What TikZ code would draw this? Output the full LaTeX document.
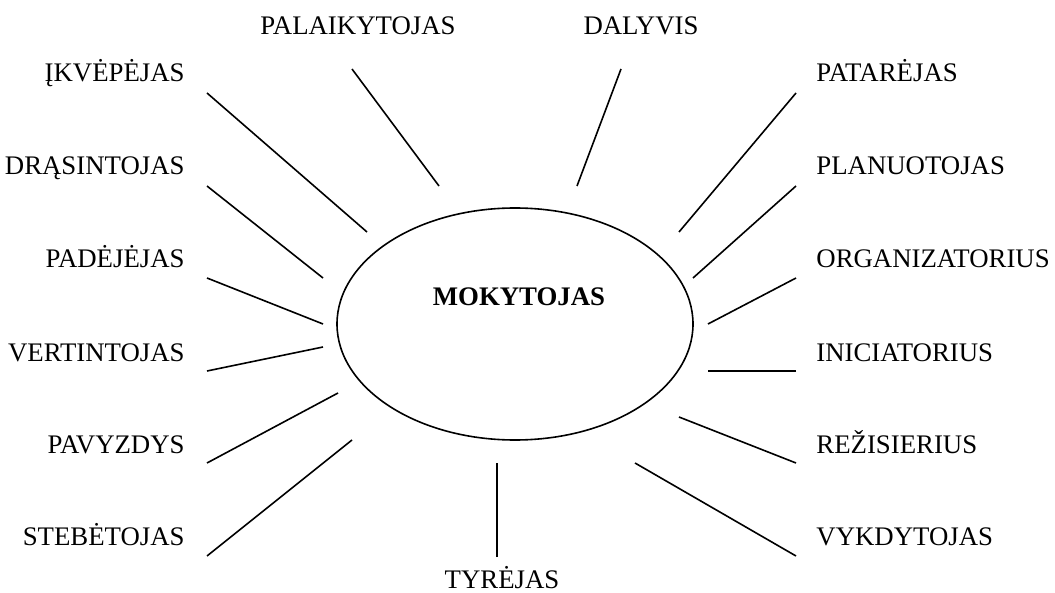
\documentclass[tikz,border=0pt]{standalone}
\usepackage{fontspec}
\setmainfont{Liberation Serif}
\usetikzlibrary{shapes.geometric}
\begin{document}
\begin{tikzpicture}[x=0.5pt, y=-0.5pt, font=\fontsize{13.4}{16}\selectfont,
        lbl/.style={inner sep=0pt},
        lleft/.style={lbl, anchor=base east},
        lright/.style={lbl, anchor=base west},
        ltop/.style={lbl, anchor=base},
        ray/.style={thick}]
        \useasboundingbox (0,0) rectangle (1055,593);
        \node[draw, thick, ellipse, minimum width=178pt, minimum height=116pt] (mok) at (515,324) {};
        \node[ltop, font=\fontsize{13.4}{16}\selectfont\bfseries] (mokt) at (519,306) {MOKYTOJAS};
        \node[ltop] (pal) at (358,35) {PALAIKYTOJAS};
        \node[ltop] (dal) at (641,35) {DALYVIS};
        \node[ltop] (tyr) at (502,588) {TYRĖJAS};
        \node[lleft] (ikv) at (185,82) {ĮKVĖPĖJAS};
        \node[lleft] (dra) at (185,175) {DRĄSINTOJAS};
        \node[lleft] (pad) at (185,268) {PADĖJĖJAS};
        \node[lleft] (ver) at (185,361) {VERTINTOJAS};
        \node[lleft] (pav) at (185,453) {PAVYZDYS};
        \node[lleft] (ste) at (185,545) {STEBĖTOJAS};
        \node[lright] (pat) at (816,82) {PATARĖJAS};
        \node[lright] (pla) at (816,175) {PLANUOTOJAS};
        \node[lright] (org) at (816,268) {ORGANIZATORIUS};
        \node[lright] (ini) at (816,361) {INICIATORIUS};
        \node[lright] (rez) at (816,453) {REŽISIERIUS};
        \node[lright] (vyk) at (816,545) {VYKDYTOJAS};
        % ray ends
        \coordinate (pal1) at (352,69);  \coordinate (pal2) at (439,186);
        \coordinate (dal1) at (621,69);  \coordinate (dal2) at (577,186);
        \coordinate (tyr1) at (497,557); \coordinate (tyr2) at (497,463);
        \coordinate (ikv1) at (207,93);  \coordinate (ikv2) at (367,232);
        \coordinate (dra1) at (207,186); \coordinate (dra2) at (323,278);
        \coordinate (pad1) at (207,278); \coordinate (pad2) at (323,324);
        \coordinate (ver1) at (207,371); \coordinate (ver2) at (323,347);
        \coordinate (pav1) at (207,463); \coordinate (pav2) at (338,393);
        \coordinate (ste1) at (207,556); \coordinate (ste2) at (352,440);
        \coordinate (pat1) at (796,93);  \coordinate (pat2) at (679,232);
        \coordinate (pla1) at (796,186); \coordinate (pla2) at (693,278);
        \coordinate (org1) at (796,278); \coordinate (org2) at (708,324);
        \coordinate (ini1) at (796,371); \coordinate (ini2) at (708,371);
        \coordinate (rez1) at (796,463); \coordinate (rez2) at (679,417);
        \coordinate (vyk1) at (796,556); \coordinate (vyk2) at (635,463);
        \draw[ray] (pal1) -- (pal2);
        \draw[ray] (dal1) -- (dal2);
        \draw[ray] (tyr1) -- (tyr2);
        \draw[ray] (ikv1) -- (ikv2);
        \draw[ray] (dra1) -- (dra2);
        \draw[ray] (pad1) -- (pad2);
        \draw[ray] (ver1) -- (ver2);
        \draw[ray] (pav1) -- (pav2);
        \draw[ray] (ste1) -- (ste2);
        \draw[ray] (pat1) -- (pat2);
        \draw[ray] (pla1) -- (pla2);
        \draw[ray] (org1) -- (org2);
        \draw[ray] (ini1) -- (ini2);
        \draw[ray] (rez1) -- (rez2);
        \draw[ray] (vyk1) -- (vyk2);
    \end{tikzpicture}
\end{document}
